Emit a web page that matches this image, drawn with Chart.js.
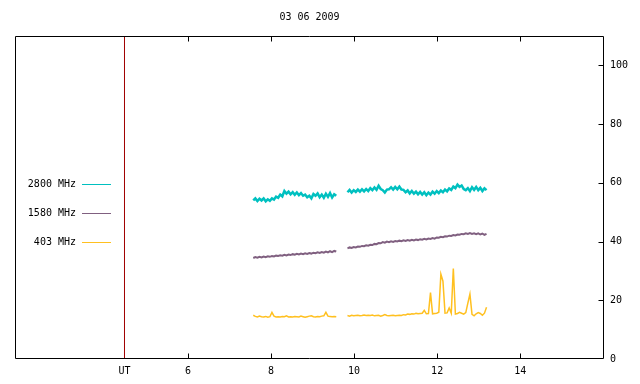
<!DOCTYPE html>
<html>
<head>
<meta charset="utf-8">
<script src="https://cdn.jsdelivr.net/npm/chart.js@4/dist/chart.umd.min.js"></script>
<style>
    html, body { margin: 0; padding: 0; background: #fff; }
    #wrap { width: 640px; height: 384px; }
</style>
</head>
<body>
<div id="wrap"><canvas id="fluxChart" width="640" height="384"></canvas></div>
<script>
// Title and axis ticks
const chartTitle = '03 06 2009';
const xTickValues = [4.468, 6, 8, 10, 12, 14];
const xTickLabels = ['UT', '6', '8', '10', '12', '14'];
const yTickValues = [0, 20, 40, 60, 80, 100];

// Time of each sample (UT hours); 9.70 is the gap between the two runs
const times = [
    7.57, 7.62, 7.67, 7.72, 7.77, 7.82, 7.87, 7.92, 7.97, 8.02,
    8.07, 8.12, 8.17, 8.22, 8.27, 8.32, 8.37, 8.42, 8.47, 8.52,
    8.57, 8.62, 8.67, 8.72, 8.77, 8.82, 8.87, 8.92, 8.97, 9.02,
    9.07, 9.12, 9.17, 9.22, 9.27, 9.32, 9.37, 9.42, 9.47, 9.52,
    9.57,
    9.70,
    9.84, 9.89, 9.94, 9.99, 10.04, 10.09, 10.14, 10.19, 10.24, 10.29,
    10.34, 10.39, 10.44, 10.49, 10.54, 10.59, 10.64, 10.69, 10.74, 10.79,
    10.84, 10.89, 10.94, 10.99, 11.04, 11.09, 11.14, 11.19, 11.24, 11.29,
    11.34, 11.39, 11.44, 11.49, 11.54, 11.59, 11.64, 11.69, 11.74, 11.79,
    11.84, 11.89, 11.94, 11.99, 12.04, 12.09, 12.14, 12.19, 12.24, 12.29,
    12.34, 12.39, 12.44, 12.49, 12.54, 12.59, 12.64, 12.69, 12.74, 12.79,
    12.84, 12.89, 12.94, 12.99, 13.04, 13.09, 13.14, 13.19
];

// 2800 MHz flux
const flux2800 = [
    54.0, 54.7, 53.8, 54.6, 54.0, 54.7, 53.7, 54.4, 53.9, 54.7,
    54.3, 55.3, 54.9, 56.0, 55.4, 57.2, 56.3, 57.0, 56.1, 56.8,
    55.9, 56.7, 55.8, 56.5, 55.6, 56.0, 55.1, 55.6, 54.7, 56.2,
    55.6, 56.4, 55.1, 56.0, 54.9, 56.3, 55.2, 56.5, 55.0, 56.1,
    55.6,
    null,
    56.8, 57.6, 56.7, 57.5, 56.9, 57.7, 57.0, 57.8, 57.1, 57.9,
    57.2, 58.2, 57.5, 58.4, 57.6, 59.0, 57.9, 57.5, 56.7, 57.7,
    57.8, 58.5, 57.7, 58.6, 57.8, 58.7, 57.7, 57.6, 56.8, 57.4,
    56.4, 57.2, 56.3, 57.0, 56.1, 56.9, 56.0, 56.8, 55.8, 56.7,
    56.0, 57.0, 56.3, 57.2, 56.5, 57.4, 56.8, 57.7, 57.1, 58.1,
    57.6, 58.7, 58.2, 59.4, 58.6, 59.1, 57.9, 57.5, 58.2, 57.2,
    58.5, 57.6, 58.6, 57.5, 58.3, 57.2, 58.1, 57.5
];

// 1580 MHz flux
const flux1580 = [
    34.4, 34.7, 34.5, 34.8, 34.6, 34.9, 34.7, 35.0, 34.8, 35.1,
    34.9, 35.2, 35.1, 35.3, 35.2, 35.5, 35.3, 35.6, 35.4, 35.7,
    35.5, 35.8, 35.6, 35.9, 35.7, 36.0, 35.8, 36.1, 35.9, 36.2,
    36.0, 36.3, 36.1, 36.4, 36.2, 36.6, 36.3, 36.7, 36.4, 36.8,
    36.6,
    null,
    37.7, 38.0, 37.8, 38.1, 38.0, 38.3, 38.2, 38.5, 38.4, 38.7,
    38.6, 38.9, 38.8, 39.2, 39.1, 39.5, 39.4, 39.8, 39.6, 40.0,
    39.8, 40.1, 39.9, 40.2, 40.0, 40.3, 40.1, 40.4, 40.2, 40.5,
    40.3, 40.6, 40.4, 40.7, 40.5, 40.8, 40.6, 40.9, 40.7, 41.0,
    40.9, 41.2, 41.0, 41.4, 41.3, 41.6, 41.5, 41.8, 41.7, 42.0,
    41.9, 42.2, 42.1, 42.4, 42.3, 42.6, 42.5, 42.8, 42.6, 42.9,
    42.6, 42.8, 42.5, 42.8, 42.4, 42.7, 42.3, 42.6
];

// 403 MHz flux
const flux403 = [
    14.9, 14.5, 14.3, 14.6, 14.4, 14.3, 14.5, 14.2, 14.4, 15.9,
    14.6, 14.3, 14.4, 14.3, 14.5, 14.4, 14.7, 14.3, 14.4, 14.3,
    14.5, 14.4, 14.3, 14.6, 14.4, 14.2, 14.4, 14.6, 14.7, 14.4,
    14.3, 14.5, 14.4, 14.6, 14.7, 15.9, 14.6, 14.5, 14.4, 14.5,
    14.4,
    null,
    14.8, 14.6, 14.9, 14.7, 14.8, 14.9, 14.7, 14.8, 15.0, 14.8,
    14.9, 14.8, 15.0, 14.7, 14.8, 14.9, 14.6, 14.8, 15.1, 14.8,
    14.7, 14.8, 14.9, 14.7, 14.8, 14.9, 14.8, 15.1, 15.0, 15.3,
    15.2, 15.4, 15.3, 15.6, 15.4, 15.5, 15.6, 16.6, 15.4, 15.5,
    22.6, 15.4, 15.5, 15.6, 15.9, 28.9, 26.5, 15.6, 15.7, 17.4,
    15.6, 30.8, 15.3, 15.5, 15.9, 15.6, 15.3, 15.8, 19.0, 22.1,
    15.2, 14.7, 15.4, 15.8, 15.5, 14.9, 15.6, 17.6
];

// Vertical UT marker
const markerX = [4.468, 4.468];
const markerY = [0, 110];

const seriesNames = ['2800 MHz', '1580 MHz', '403 MHz'];
const seriesColors = ['#00c0c0', '#806080', '#ffc020'];
const seriesWidths = [2.5, 2, 1.5];

const FONT = '10px "DejaVu Sans Mono", monospace';

function toPoints(xs, ys) {
    return xs.map((x, i) => ({ x: x, y: ys[i] }));
}

// Frame, inward ticks, title and legend drawn on top
const framePlugin = {
    id: 'frame',
    afterDraw(chart) {
        const ctx = chart.ctx;
        const a = chart.chartArea;
        const xs = chart.scales.x;
        const ys = chart.scales.y;
        const L = Math.round(a.left) + 0.5, R = Math.round(a.right) - 0.5;
        const T = Math.round(a.top) + 0.5, B = Math.round(a.bottom) - 0.5;
        ctx.save();
        ctx.strokeStyle = '#000';
        ctx.lineWidth = 1;
        ctx.beginPath();
        ctx.rect(L, T, R - L, B - T);
        // x ticks, top and bottom (none at UT)
        xTickValues.forEach((v, i) => {
            if (xTickLabels[i] === 'UT') return;
            const px = Math.round(xs.getPixelForValue(v)) + 0.5;
            ctx.moveTo(px, B); ctx.lineTo(px, B - 5);
            ctx.moveTo(px, T); ctx.lineTo(px, T + 5);
        });
        // y ticks on the right side
        yTickValues.forEach(v => {
            if (v === 0) return;
            const py = Math.round(ys.getPixelForValue(v)) + 0.5;
            ctx.moveTo(R, py); ctx.lineTo(R - 5, py);
        });
        ctx.stroke();

        ctx.fillStyle = '#000';
        ctx.font = FONT;
        ctx.textBaseline = 'middle';
        ctx.textAlign = 'center';
        ctx.fillText(chartTitle, (a.left + a.right) / 2, 17);

        // legend inside the plot, left side
        seriesNames.forEach((name, i) => {
            const y = 184 + i * 29;
            ctx.textAlign = 'right';
            ctx.fillStyle = '#000';
            ctx.fillText(name, 76, y);
            ctx.strokeStyle = seriesColors[i];
            ctx.beginPath();
            ctx.moveTo(82, y + 0.5);
            ctx.lineTo(111, y + 0.5);
            ctx.stroke();
        });
        ctx.restore();
    }
};

function createFluxChart() {
    const datasets = [
        { data: toPoints(markerX, markerY), borderColor: '#a00000', borderWidth: 1 },
        { data: toPoints(times, flux2800), borderColor: seriesColors[0], borderWidth: seriesWidths[0] },
        { data: toPoints(times, flux1580), borderColor: seriesColors[1], borderWidth: seriesWidths[1] },
        { data: toPoints(times, flux403), borderColor: seriesColors[2], borderWidth: seriesWidths[2] }
    ].map(d => Object.assign(d, {
        showLine: true,
        pointRadius: 0,
        spanGaps: false,
        tension: 0
    }));

    new Chart(document.getElementById('fluxChart'), {
        type: 'scatter',
        data: { datasets: datasets },
        options: {
            responsive: false,
            animation: false,
            layout: { padding: { top: 36, left: 15, right: 0, bottom: 0 } },
            plugins: {
                legend: { display: false },
                title: { display: false },
                tooltip: { enabled: false }
            },
            scales: {
                x: {
                    type: 'linear',
                    min: 1.83,
                    max: 16.02,
                    afterBuildTicks: s => { s.ticks = xTickValues.map(v => ({ value: v })); },
                    afterFit: s => { s.height = 25; },
                    grid: { display: false, drawTicks: false },
                    border: { display: false },
                    ticks: {
                        font: { family: '"DejaVu Sans Mono"', size: 10 },
                        color: '#000',
                        padding: 6,
                        maxRotation: 0,
                        autoSkip: false,
                        callback: (v) => xTickLabels[xTickValues.indexOf(v)]
                    }
                },
                y: {
                    type: 'linear',
                    position: 'right',
                    min: 0,
                    max: 110,
                    afterBuildTicks: s => { s.ticks = yTickValues.map(v => ({ value: v })); },
                    afterFit: s => { s.width = 36; },
                    grid: { display: false, drawTicks: false },
                    border: { display: false },
                    ticks: {
                        font: { family: '"DejaVu Sans Mono"', size: 10 },
                        color: '#000',
                        padding: 6,
                        callback: (v) => String(v)
                    }
                }
            }
        },
        plugins: [framePlugin]
    });
}

document.addEventListener('DOMContentLoaded', function() {
    createFluxChart();
});
</script>
</body>
</html>
